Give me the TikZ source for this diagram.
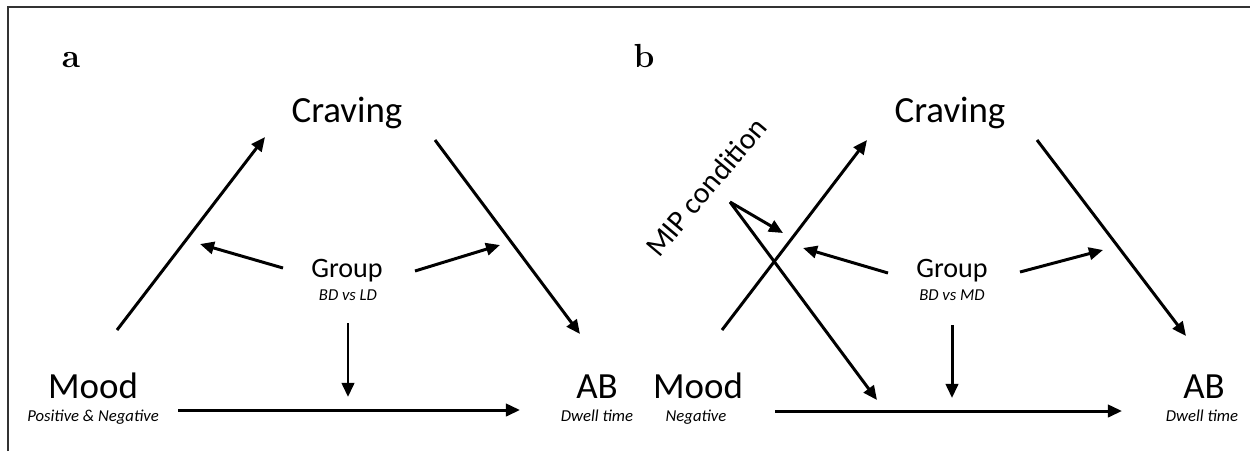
\documentclass[tikz,border=0pt]{standalone}
\usepackage{fontspec}
\setsansfont{Carlito}
\usepackage{tikz}
\usetikzlibrary{positioning,arrows.meta,calc}

\begin{document}
\begin{tikzpicture}[
    x=0.02cm, y=-0.02cm,
    big/.style={font=\sffamily\fontsize{21}{24}\selectfont, inner sep=2pt},
    grp/.style={font=\sffamily\fontsize{16}{18}\selectfont, inner sep=2pt},
    sub/.style={font=\sffamily\itshape\fontsize{9.5}{11}\selectfont, inner sep=2pt},
    lab/.style={font=\bfseries\fontsize{19}{21}\selectfont, inner sep=0pt},
    arr/.style={-{Triangle[length=8pt,width=7pt]}, line width=1.7pt},
  ]
    \useasboundingbox (0,0) rectangle (1250,451);
    % open frame
    \draw[line width=1.1pt, black!80] (8,451) -- (8,7) -- (1250,7);

    % ---- panel a ----
    \node[lab, anchor=base] (labA) at (71,67) {a};
    \node[big, anchor=base] (cravA) at (347,122) {Craving};
    \node[grp, anchor=base] (grpA) at (347,277) {Group};
    \node[sub, anchor=base] (grpAsub) at (348,300) {BD vs LD};
    \node[big, anchor=base] (moodA) at (93,398) {Mood};
    \node[sub, anchor=base] (moodAsub) at (93,421) {Positive \& Negative};
    \node[big, anchor=base] (abA) at (597,398) {AB};
    \node[sub, anchor=base] (abAsub) at (597,421) {Dwell time};

    % moderation targets (a)
    \coordinate (modA1) at (200,244);
    \coordinate (modA2) at (500,245);
    \coordinate (modA3) at (348,397);

    \draw[arr] ($(moodA.base)+(24,-68)$) -- ($(cravA.base)+(-82,15)$);
    \draw[arr] ($(cravA.base)+(88,18)$) -- ($(abA.base)+(-17,-64)$);
    \draw[arr] ($(moodA.base)+(85,12)$) -- ($(abA.base)+(-77,12)$);
    \draw[arr] ($(grpA.base)+(-64,-9)$) -- (modA1);
    \draw[arr] ($(grpA.base)+(68,-6)$) -- (modA2);
    \draw[arr] ($(grpAsub.base)+(0,23)$) -- (modA3);

    % ---- panel b ----
    \node[lab, anchor=base] (labB) at (644,67) {b};
    \node[big, anchor=base] (cravB) at (950,122) {Craving};
    \node[grp, anchor=base] (grpB) at (952,277) {Group};
    \node[sub, anchor=base] (grpBsub) at (952,300) {BD vs MD};
    \node[big, anchor=base] (moodB) at (698,398) {Mood};
    \node[sub, anchor=base] (moodBsub) at (696,421) {Negative};
    \node[big, anchor=base] (abB) at (1204,398) {AB};
    \node[sub, anchor=base] (abBsub) at (1202,421) {Dwell time};
    \node[grp, font=\sffamily\fontsize{17}{19}\selectfont, rotate=50] (mip) at (706,187) {MIP condition};

    % moderation targets (b)
    \coordinate (modB1) at (803,248);
    \coordinate (modB2) at (1103,250);
    \coordinate (modB3) at (952,398);
    \coordinate (mipA) at (783,233);
    \coordinate (mipB) at (877,400);

    \draw[arr] ($(moodB.base)+(24,-68)$) -- ($(cravB.base)+(-83,18)$);
    \draw[arr] ($(cravB.base)+(87,18)$) -- ($(abB.base)+(-18,-62)$);
    \draw[arr] ($(moodB.base)+(77,13)$) -- ($(abB.base)+(-82,13)$);
    \draw[arr] ($(grpB.base)+(-64,-4)$) -- (modB1);
    \draw[arr] ($(grpB.base)+(68,-5)$) -- (modB2);
    \draw[arr] ($(grpBsub.base)+(0,25)$) -- (modB3);
    \draw[arr] ($(mip.center)+(24,15)$) -- (mipA);
    \draw[arr] ($(mip.center)+(24,15)$) -- (mipB);
\end{tikzpicture}
\end{document}
